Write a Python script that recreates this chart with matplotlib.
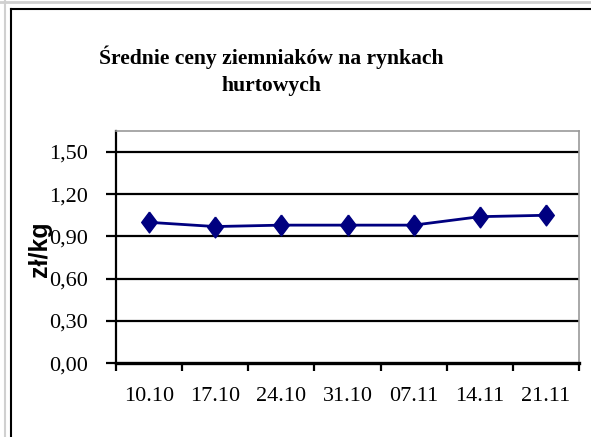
import numpy as np
import matplotlib.pyplot as plt
from matplotlib.lines import Line2D

# dane
daty = ['10.10', '17.10', '24.10', '31.10', '07.11', '14.11', '21.11']
ceny = [1.00, 0.97, 0.98, 0.98, 0.98, 1.04, 1.05]
y_ticks = [0.0, 0.3, 0.6, 0.9, 1.2, 1.5]
y_labels = ['0,00', '0,30', '0,60', '0,90', '1,20', '1,50']

granat = '#000080'

fig = plt.figure(figsize=(5.91, 4.37), dpi=100)
ax = fig.add_axes([0.1963, 0.1686, 0.7834, 0.5324])

x = np.arange(len(daty))
diament = [(0, 1), (0.75, 0), (0, -1), (-0.75, 0), (0, 1)]
ax.plot(x, ceny, color=granat, lw=2, marker=diament, ms=15, mfc=granat, mec=granat)

ax.set_xlim(-0.5, len(daty) - 0.5)
ax.set_ylim(0, 1.65)

ax.set_yticks(y_ticks)
ax.set_yticklabels(y_labels, family='Liberation Serif', fontsize=16)
for t in y_ticks[1:]:
    ax.axhline(t, color='black', lw=1.6, zorder=1)

ax.set_xticks(x)
ax.set_xticklabels(daty, family='Liberation Serif', fontsize=16)
ax.set_xticks(np.arange(-0.5, len(daty)), minor=True)
ax.tick_params(axis='x', which='major', length=0, pad=17)
ax.tick_params(axis='x', which='minor', length=6, width=1.6, direction='out')
ax.tick_params(axis='y', length=7, width=1.6, pad=13)

ax.spines['left'].set_linewidth(1.6)
ax.spines['bottom'].set_linewidth(2.4)
ax.spines['top'].set_color('#999999')
ax.spines['right'].set_color('#999999')
ax.spines['top'].set_linewidth(1.2)
ax.spines['right'].set_linewidth(1.2)

ax.set_ylabel('zł/kg', family='Liberation Sans', fontweight='bold', fontsize=18)
ax.yaxis.set_label_coords(-0.138, 0.49)

fig.text(0.459, 0.838, 'Średnie ceny ziemniaków na rynkach\nhurtowych',
         ha='center', va='center', family='Liberation Serif', fontweight='bold',
         fontsize=15.6, linespacing=1.5)

# ramka wykresu
fig.add_artist(Line2D([11 / 591, 11 / 591], [0, 1 - 9 / 437], color='black', lw=1.5))
fig.add_artist(Line2D([11 / 591, 1], [1 - 9 / 437, 1 - 9 / 437], color='black', lw=1.5))
fig.add_artist(Line2D([5 / 591, 5 / 591], [0, 1], color='#d0d0d0', lw=1.5))
fig.add_artist(Line2D([0, 1], [1 - 2 / 437, 1 - 2 / 437], color='#d0d0d0', lw=2))

fig.savefig('out.png', dpi=100)
